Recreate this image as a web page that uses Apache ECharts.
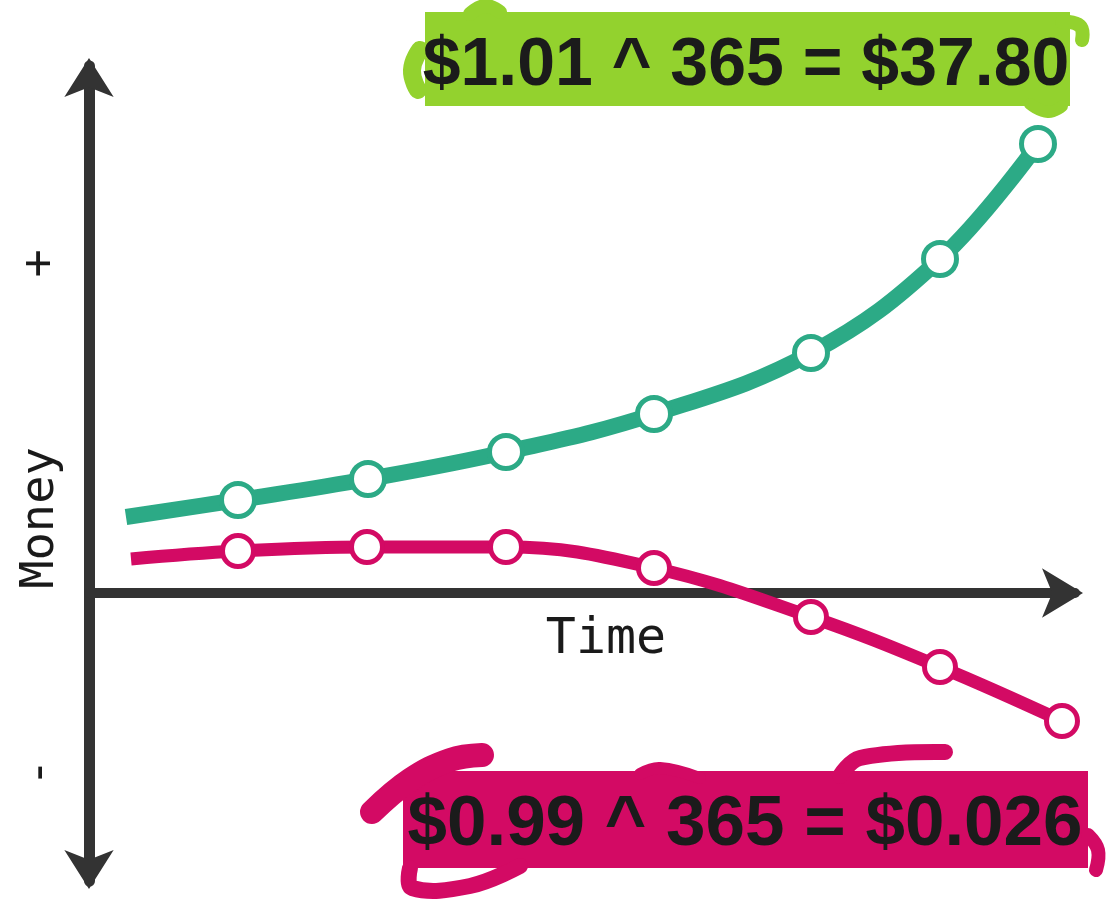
<!DOCTYPE html>
<html>
<head>
<meta charset="utf-8">
<script src="https://cdn.jsdelivr.net/npm/echarts@6/dist/echarts.min.js"></script>
<style>
html,body{margin:0;padding:0;background:#fff;}
#chart{width:1109px;height:901px;}
</style>
</head>
<body>
<div id="chart"></div>
<script>
// ---- data ----
const gainTimes = [0.37, 1.49, 2.79, 4.17, 5.65, 7.22, 8.51, 9.49];
const gainMoney = [0.76, 0.93, 1.14, 1.41, 1.79, 2.40, 3.34, 4.49];
const lossTimes = [0.42, 1.49, 2.78, 4.17, 5.65, 7.22, 8.51, 9.73];
const lossMoney = [0.34, 0.42, 0.46, 0.46, 0.25, -0.24, -0.74, -1.28];
const xAxisName = 'Time';
const yAxisName = '-      Money      +';
const gainLabel = '$1.01 ^ 365 = $37.80';
const lossLabel = '$0.99 ^ 365 = $0.026';

const GREEN = '#2caa86';
const RED = '#d30a64';
const HL_GREEN = '#93d22e';
const AXIS = '#333333';

function toSeriesData(xs, ys) {
  return xs.map((x, i) => i === 0 ? { value: [x, ys[i]], symbol: 'none' } : [x, ys[i]]);
}

const annoFont = "'Liberation Sans', 'Arial', sans-serif";

const chart = echarts.init(document.getElementById('chart'), null, { renderer: 'canvas' });
chart.setOption({
  animation: false,
  backgroundColor: '#ffffff',
  grid: { left: 89, right: 34, top: 66, bottom: 20, outerBoundsMode: 'none', containLabel: false },
  xAxis: {
    type: 'value', min: 0, max: 9.86,
    offset: -288,
    name: xAxisName, nameLocation: 'middle', nameGap: 22,
    nameTextStyle: { fontFamily: 'DejaVu Sans Mono', fontSize: 50, color: '#1a1a1a', padding: [0, 0, 0, 48] },
    axisLine: { onZero: false, symbol: ['none', 'arrow'], symbolSize: [37, 41], symbolOffset: [0, 8], lineStyle: { color: AXIS, width: 10 } },
    axisTick: { show: false }, axisLabel: { show: false }, splitLine: { show: false }
  },
  yAxis: {
    type: 'value', min: -2.88, max: 5.27,
    name: yAxisName, nameLocation: 'middle', nameGap: 25, nameRotate: 90,
    nameTextStyle: { fontFamily: 'DejaVu Sans Mono', fontSize: 47, color: '#1a1a1a', padding: [0, 89, 0, 0] },
    axisLine: { symbol: ['arrow', 'arrow'], symbolSize: [37, 39], symbolOffset: [-8, 8], lineStyle: { color: AXIS, width: 11 } },
    axisTick: { show: false }, axisLabel: { show: false }, splitLine: { show: false }
  },
  series: [
    {
      type: 'line', smooth: 0.4, data: toSeriesData(gainTimes, gainMoney),
      symbol: 'circle', symbolSize: 33, showAllSymbol: true,
      lineStyle: { color: GREEN, width: 16 },
      itemStyle: { color: '#ffffff', borderColor: GREEN, borderWidth: 5 },
      z: 3
    },
    {
      type: 'line', smooth: 0.4, data: toSeriesData(lossTimes, lossMoney),
      symbol: 'circle', symbolSize: 31, showAllSymbol: true,
      lineStyle: { color: RED, width: 13 },
      itemStyle: { color: '#ffffff', borderColor: RED, borderWidth: 5 },
      z: 3
    }
  ],
  graphic: [
    // green highlight
    { type: 'rect', shape: { x: 425, y: 12, width: 645, height: 94 }, style: { fill: HL_GREEN }, z: 1 },
    { type: 'polyline', shape: { points: [[470, 14], [485, 6], [500, 12]], smooth: 0.5 }, style: { stroke: HL_GREEN, lineWidth: 14, lineCap: 'round', lineJoin: 'round', fill: null }, z: 1 },
    { type: 'polyline', shape: { points: [[420, 50], [412, 70], [418, 90]], smooth: 0.5 }, style: { stroke: HL_GREEN, lineWidth: 18, lineCap: 'round', lineJoin: 'round', fill: null }, z: 1 },
    { type: 'polyline', shape: { points: [[1062, 22], [1080, 26], [1082, 40]], smooth: 0.5 }, style: { stroke: HL_GREEN, lineWidth: 14, lineCap: 'round', lineJoin: 'round', fill: null }, z: 1 },
    { type: 'polyline', shape: { points: [[1030, 104], [1048, 112], [1062, 106]], smooth: 0.5 }, style: { stroke: HL_GREEN, lineWidth: 12, lineCap: 'round', lineJoin: 'round', fill: null }, z: 1 },
    { type: 'text', x: 746, y: 66, style: { text: gainLabel, font: 'bold 68px ' + annoFont, fill: '#1b1b1b', align: 'center', verticalAlign: 'middle' }, z: 2 },
    // red highlight
    { type: 'rect', shape: { x: 403, y: 771, width: 685, height: 97 }, style: { fill: RED }, z: 1 },
    { type: 'polyline', shape: { points: [[372, 812], [410, 780], [450, 760], [482, 755]], smooth: 0.4 }, style: { stroke: RED, lineWidth: 24, lineCap: 'round', lineJoin: 'round', fill: null }, z: 1 },
    { type: 'polyline', shape: { points: [[640, 774], [660, 768], [700, 778]], smooth: 0.4 }, style: { stroke: RED, lineWidth: 12, lineCap: 'round', lineJoin: 'round', fill: null }, z: 1 },
    { type: 'polyline', shape: { points: [[840, 776], [860, 758], [945, 752]], smooth: 0.4 }, style: { stroke: RED, lineWidth: 16, lineCap: 'round', lineJoin: 'round', fill: null }, z: 1 },
    { type: 'polyline', shape: { points: [[410, 868], [412, 888], [470, 886], [520, 866]], smooth: 0.4 }, style: { stroke: RED, lineWidth: 16, lineCap: 'round', lineJoin: 'round', fill: null }, z: 1 },
    { type: 'polyline', shape: { points: [[1088, 835], [1098, 850], [1096, 870]], smooth: 0.4 }, style: { stroke: RED, lineWidth: 14, lineCap: 'round', lineJoin: 'round', fill: null }, z: 1 },
    { type: 'text', x: 745, y: 825, style: { text: lossLabel, font: 'bold 71px ' + annoFont, fill: '#1b1b1b', align: 'center', verticalAlign: 'middle' }, z: 2 }
  ]
});
</script>
</body>
</html>
